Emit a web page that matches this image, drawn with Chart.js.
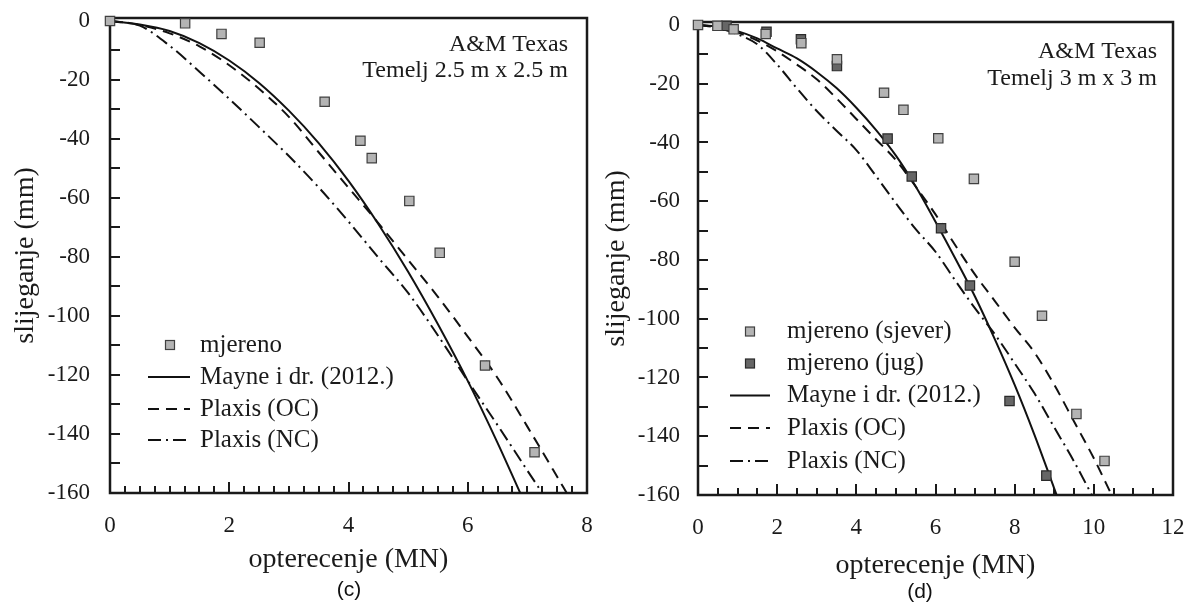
<!DOCTYPE html>
<html>
<head>
<meta charset="utf-8">
<script src="https://cdn.jsdelivr.net/npm/chart.js@4.4.1/dist/chart.umd.min.js"></script>
<style>
  html, body { margin: 0; padding: 0; background: #fff; width: 1189px; height: 607px; overflow: hidden; }
  .panel { position: absolute; top: 0; }
  .cap { position: absolute; font-family: "Liberation Sans", Arial, sans-serif; font-size: 21px; color: #111;
         transform: translate(-50%, -50%); white-space: nowrap; }
</style>
</head>
<body>
<div class="panel" style="left:0"><canvas id="chartC" width="600" height="607"></canvas></div>
<div class="panel" style="left:600px"><canvas id="chartD" width="589" height="607"></canvas></div>
<div class="cap" style="left:349px;top:589px">(c)</div>
<div class="cap" style="left:920px;top:591px">(d)</div>
<script>
// ---- (c) Temelj 2.5 m x 2.5 m ----
const loadMeasC   = [0, 1.26, 1.87, 2.51, 3.6, 4.2, 4.39, 5.02, 5.53, 6.29, 7.12];
const settleMeasC = [0, -0.8, -4.4, -7.4, -27.4, -40.6, -46.5, -61, -78.6, -116.8, -146.2];

const loadMayneC   = [0, 0.5, 1, 1.5, 2, 2.5, 3, 3.5, 4, 4.5, 5, 5.5, 6, 6.5, 6.88];
const settleMayneC = [0, -1.2, -3.4, -7.5, -13.4, -21, -30.4, -41.4, -54.2, -68.8, -85, -102.8, -122, -143, -160];

const loadOcC   = [0, 0.5, 1, 1.5, 2, 2.5, 3, 3.5, 4, 4.5, 5, 5.5, 6, 6.5, 7, 7.5, 7.66];
const settleOcC = [0, -1.4, -4.2, -8.6, -15, -23, -32.5, -44.5, -56.5, -68.5, -81, -93.5, -107, -121, -137.5, -154.5, -160];

const loadNcC   = [0, 0.5, 1, 1.5, 2, 2.5, 3, 3.5, 4, 4.5, 5, 5.5, 6, 6.5, 7, 7.25];
const settleNcC = [0, -1.6, -8.4, -17.2, -26.4, -36, -45.8, -56.4, -68, -80.2, -92.2, -106.6, -122, -137, -152.4, -160];

// ---- (d) Temelj 3 m x 3 m ----
const loadNorthD   = [0, 0.49, 0.9, 1.71, 2.61, 3.51, 4.7, 5.19, 6.07, 6.97, 8.0, 8.69, 9.56, 10.27];
const settleNorthD = [0, -0.3, -1.5, -3.1, -6.2, -11.7, -23.1, -28.9, -38.6, -52.4, -80.6, -99, -132.4, -148.4];

const loadSouthD   = [0.72, 1.73, 2.6, 3.51, 4.79, 5.4, 6.14, 6.87, 7.87, 8.8];
const settleSouthD = [-0.3, -2.3, -4.9, -14, -38.7, -51.6, -69.2, -88.7, -128, -153.4];

const loadMayneD   = [0, 0.5, 1, 1.5, 2, 2.5, 3, 3.5, 4, 4.5, 5, 5.5, 6, 6.5, 7, 7.5, 8, 8.5, 9, 9.06];
const settleMayneD = [0, -0.6, -2.1, -4.6, -8, -11.4, -16, -21.5, -28.2, -35.8, -44.5, -55, -67, -79.5, -92.5, -107, -122.5, -139.5, -157.8, -160];

const loadOcD   = [0, 0.5, 1, 1.5, 2, 2.5, 3, 3.5, 4, 4.5, 5, 5.5, 6, 6.5, 7, 7.5, 8, 8.5, 9, 9.5, 10, 10.45];
const settleOcD = [0, -0.8, -2.6, -5.3, -9, -13.5, -18.5, -25, -32, -39, -46, -55, -64.5, -75, -85, -94, -103, -111.5, -122.5, -135, -147.5, -160];

const loadNcD   = [0, 0.5, 1, 1.5, 2, 2.5, 3, 3.5, 4, 4.5, 5, 5.5, 6, 6.5, 7, 7.5, 8, 8.5, 9, 9.5, 9.95];
const settleNcD = [0, -1, -3.2, -6.6, -13.5, -21.6, -29.3, -36, -42.6, -51.5, -60.7, -69.5, -77.2, -87, -96.5, -105.3, -115.2, -125.4, -137, -148.6, -160];

// axis ticks
const yTicks  = [0, -20, -40, -60, -80, -100, -120, -140, -160];
const xTicksC = [0, 2, 4, 6, 8];
const xTicksD = [0, 2, 4, 6, 8, 10, 12];

const serif = '"Liberation Serif", "Times New Roman", serif';
const ink = '#1a1a1a';

const zip = (xs, ys) => xs.map((x, i) => ({ x: x, y: ys[i] }));

function markers(label, xs, ys, fill, edge) {
    return {
        label: label, data: zip(xs, ys), showLine: false, order: 0, clip: false,
        pointStyle: 'rect', pointRadius: 6.6, pointBackgroundColor: fill,
        pointBorderColor: edge, pointBorderWidth: 1.2
    };
}

function curve(label, xs, ys, dash) {
    return {
        label: label, data: zip(xs, ys), showLine: true, order: 1,
        borderColor: '#111', borderWidth: 2, borderDash: dash,
        pointRadius: 0, cubicInterpolationMode: 'monotone'
    };
}

// inward ticks, frame, in-plot legend and the label in the corner
const frameTicks = {
    id: 'frameTicks',
    beforeDatasetsDraw(chart, args, opts) {
        const { ctx, chartArea: a, scales: { x, y } } = chart;
        ctx.save();
        ctx.strokeStyle = ink;
        ctx.lineWidth = 2;
        ctx.beginPath();
        for (let v = opts.xMinor; v < x.max - 1e-6; v += opts.xMinor) {
            const px = Math.round(x.getPixelForValue(v));
            const r = v / opts.xMajor;
            const len = Math.abs(r - Math.round(r)) < 1e-6 ? 11 : 7;
            ctx.moveTo(px, a.bottom);
            ctx.lineTo(px, a.bottom - len);
        }
        for (let v = -150; v < 0; v += 10) {
            const py = Math.round(y.getPixelForValue(v));
            ctx.moveTo(a.left, py);
            ctx.lineTo(a.left + 10, py);
        }
        ctx.stroke();
        ctx.lineWidth = 2.5;
        ctx.strokeRect(a.left, a.top, a.right - a.left, a.bottom - a.top);
        ctx.restore();
    },
    afterDatasetsDraw(chart, args, opts) {
        const ctx = chart.ctx;
        const lg = opts.legend;
        ctx.save();
        ctx.font = '25px ' + serif;
        ctx.fillStyle = ink;
        ctx.textBaseline = 'middle';
        ctx.textAlign = 'left';
        chart.data.datasets.forEach((ds, i) => {
            const yy = lg.rows[i];
            if (ds.showLine) {
                ctx.save();
                ctx.strokeStyle = ds.borderColor;
                ctx.lineWidth = ds.borderWidth;
                ctx.setLineDash(ds.borderDash || []);
                ctx.beginPath();
                ctx.moveTo(lg.x0, yy);
                ctx.lineTo(lg.x1, yy);
                ctx.stroke();
                ctx.restore();
            } else {
                ctx.save();
                ctx.fillStyle = ds.pointBackgroundColor;
                ctx.strokeStyle = ds.pointBorderColor;
                ctx.lineWidth = 1.2;
                ctx.fillRect(lg.mx - 4.5, yy - 4.5, 9, 9);
                ctx.strokeRect(lg.mx - 4.5, yy - 4.5, 9, 9);
                ctx.restore();
            }
            ctx.fillText(ds.label, lg.tx, yy);
        });
        const nt = opts.note;
        ctx.font = '24px ' + serif;
        ctx.textAlign = 'right';
        nt.lines.forEach((t, i) => ctx.fillText(t, nt.right, nt.ys[i]));
        ctx.restore();
    }
};

// fixed axis box sizes, no extra room for overhanging tick labels
function fixBox(s, w, h) {
    if (w !== null) s.width = w;
    if (h !== null) s.height = h;
    s.paddingTop = 0;
    s.paddingBottom = 0;
    s.paddingLeft = 0;
    s.paddingRight = 0;
}

function makeChart(id, cfg) {
    return new Chart(document.getElementById(id), {
        type: 'scatter',
        data: { datasets: cfg.datasets },
        options: {
            responsive: false,
            animation: false,
            events: [],
            layout: { padding: { top: cfg.top, right: cfg.right, left: 0, bottom: 0 } },
            plugins: { legend: { display: false }, tooltip: { enabled: false }, frameTicks: cfg.frame },
            scales: {
                x: {
                    type: 'linear', min: 0, max: cfg.xMax,
                    grid: { display: false, drawTicks: false }, border: { display: false },
                    afterBuildTicks: s => { s.ticks = cfg.xTicks.map(v => ({ value: v })); },
                    afterFit: s => fixBox(s, null, cfg.xAxisH),
                    ticks: { font: { family: serif, size: 23 }, color: ink, padding: cfg.xTickPad, maxRotation: 0, autoSkip: false },
                    title: { display: true, text: 'opterecenje (MN)', color: ink,
                             font: { family: serif, size: 28 }, padding: { top: 0, bottom: cfg.xTitlePad } }
                },
                y: {
                    type: 'linear', min: -160, max: 1,
                    grid: { display: false, drawTicks: false }, border: { display: false },
                    afterBuildTicks: s => { s.ticks = yTicks.map(v => ({ value: v })); },
                    afterFit: s => fixBox(s, cfg.yAxisW, null),
                    ticks: { font: { family: serif, size: 23 }, color: ink, padding: cfg.yTickPad, autoSkip: false },
                    title: { display: true, text: 'slijeganje (mm)', color: ink,
                             font: { family: serif, size: 28 }, padding: { top: cfg.yTitlePad, bottom: 0 } }
                }
            }
        },
        plugins: [frameTicks]
    });
}

makeChart('chartC', {
    datasets: [
        markers('mjereno', loadMeasC, settleMeasC, '#b4b4b4', '#404040'),
        curve('Mayne i dr. (2012.)', loadMayneC, settleMayneC, []),
        curve('Plaxis (OC)', loadOcC, settleOcC, [11, 7]),
        curve('Plaxis (NC)', loadNcC, settleNcC, [13, 5, 2, 5])
    ],
    xMax: 8, xTicks: xTicksC,
    top: 18, right: 13, xAxisH: 114, yAxisW: 110,
    xTickPad: 19, xTitlePad: 31, yTickPad: 20, yTitlePad: 9,
    frame: {
        xMinor: 0.25, xMajor: 2,
        legend: { rows: [345, 377, 409, 440], mx: 170, x0: 148, x1: 190, tx: 200 },
        note: { lines: ['A&M Texas', 'Temelj 2.5 m x 2.5 m'], right: 568, ys: [45, 71] }
    }
});

makeChart('chartD', {
    datasets: [
        markers('mjereno (sjever)', loadNorthD, settleNorthD, '#b4b4b4', '#404040'),
        markers('mjereno (jug)', loadSouthD, settleSouthD, '#666666', '#2a2a2a'),
        curve('Mayne i dr. (2012.)', loadMayneD, settleMayneD, []),
        curve('Plaxis (OC)', loadOcD, settleOcD, [11, 7]),
        curve('Plaxis (NC)', loadNcD, settleNcD, [13, 5, 2, 5])
    ],
    xMax: 12, xTicks: xTicksD,
    top: 22, right: 16, xAxisH: 112, yAxisW: 98,
    xTickPad: 19, xTitlePad: 25, yTickPad: 18, yTitlePad: 0,
    frame: {
        xMinor: 0.5, xMajor: 2,
        legend: { rows: [331.5, 363.5, 395.5, 428, 461], mx: 150, x0: 130, x1: 170, tx: 187 },
        note: { lines: ['A&M Texas', 'Temelj 3 m x 3 m'], right: 557, ys: [52, 79] }
    }
});
</script>
</body>
</html>
